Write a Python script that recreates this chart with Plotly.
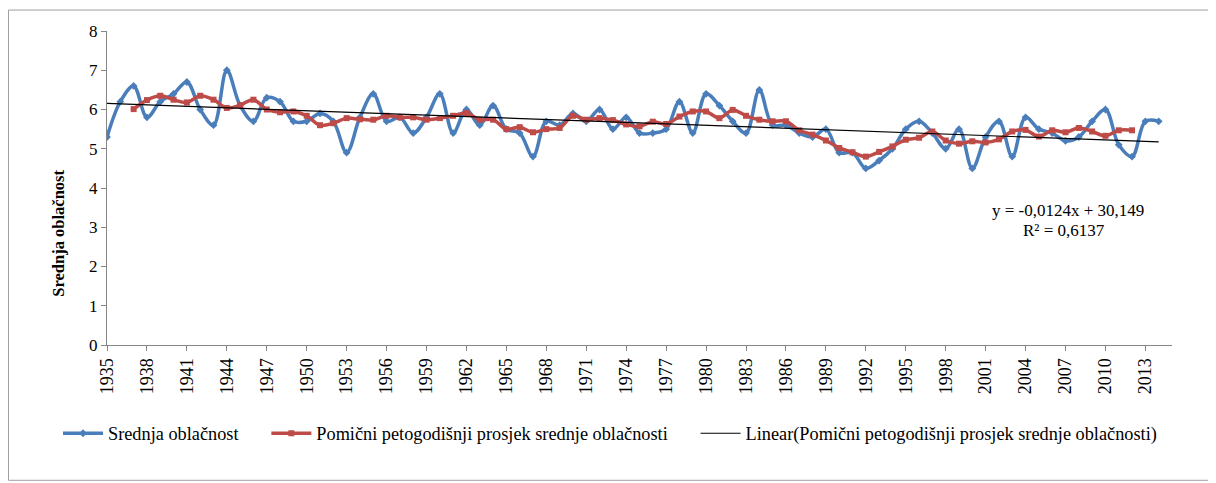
import plotly.graph_objects as go

# godine
years = list(range(1935, 2015))

# srednja oblačnost (desetine)
srednja = [5.3, 6.2, 6.6, 5.8, 6.2, 6.4, 6.7, 6.0, 5.6, 7.0,
           6.1, 5.7, 6.3, 6.2, 5.7, 5.7, 5.9, 5.7, 4.9, 5.8,
           6.4, 5.7, 5.8, 5.4, 5.8, 6.4, 5.4, 6.0, 5.6, 6.1,
           5.5, 5.4, 4.8, 5.7, 5.6, 5.9, 5.7, 6.0, 5.5, 5.8,
           5.4, 5.4, 5.5, 6.2, 5.4, 6.4, 6.1, 5.7, 5.4, 6.5,
           5.6, 5.6, 5.4, 5.3, 5.5, 4.9, 4.9, 4.5, 4.7, 5.0,
           5.5, 5.7, 5.4, 5.0, 5.5, 4.5, 5.3, 5.7, 4.8, 5.8,
           5.5, 5.4, 5.2, 5.3, 5.7, 6.0, 5.1, 4.8, 5.7, 5.7]

# pomični petogodišnji prosjek (1937 - 2012)
prosjek_years = list(range(1937, 2013))
prosjek = [6.01, 6.24, 6.35, 6.25, 6.18, 6.35, 6.25, 6.04, 6.11, 6.25,
           6.00, 5.93, 5.95, 5.84, 5.60, 5.65, 5.78, 5.75, 5.74, 5.84,
           5.80, 5.80, 5.74, 5.78, 5.84, 5.91, 5.74, 5.74, 5.50, 5.55,
           5.42, 5.50, 5.53, 5.84, 5.74, 5.78, 5.73, 5.62, 5.57, 5.69,
           5.63, 5.82, 5.95, 5.95, 5.78, 5.99, 5.84, 5.74, 5.70, 5.70,
           5.47, 5.36, 5.21, 5.02, 4.91, 4.80, 4.92, 5.06, 5.23, 5.28,
           5.44, 5.21, 5.13, 5.19, 5.16, 5.24, 5.44, 5.48, 5.31, 5.47,
           5.42, 5.53, 5.44, 5.33, 5.47, 5.47]

# linearni trend (koeficijenti s grafa)
slope = -0.0124
intercept = 30.149
trend_years = [1935, 2014]

# stranica ima marginu od 8 px, pa je sve pomaknuto
OFF = 8
W, H = 1216 - OFF, 483 - OFF
L, R, T, B = 107 - OFF, 1172 - OFF, 31 - OFF, 345.5 - OFF


def px_x(x):
    return (x - OFF - L) / (R - L)


def px_y(y):
    return (B - (y - OFF)) / (B - T)


font = 'Times New Roman, Liberation Serif, serif'
gap = '\u00a0' * 5

fig = go.Figure()
fig.add_trace(go.Scatter(
    x=years, y=srednja, name='Srednja oblačnost' + gap, mode='lines+markers',
    line=dict(color='#4A7EBB', width=3.5, shape='spline', smoothing=1.0),
    marker=dict(symbol='diamond', size=6, color='#4A7EBB')
))
fig.add_trace(go.Scatter(
    x=prosjek_years, y=prosjek, name='Pomični petogodišnji prosjek srednje oblačnosti' + gap,
    mode='lines+markers',
    line=dict(color='#BE4B48', width=3.5, shape='spline', smoothing=1.0),
    marker=dict(symbol='square', size=6, color='#BE4B48')
))
fig.add_trace(go.Scatter(
    x=trend_years, y=[slope * t + intercept for t in trend_years],
    name='Linear(Pomični petogodišnji prosjek srednje oblačnosti)', mode='lines',
    line=dict(color='black', width=1.2)
))

fig.update_layout(
    width=W, height=H,
    margin=dict(l=L, r=W - R, t=T, b=H - B),
    paper_bgcolor='white', plot_bgcolor='white',
    font=dict(family=font, size=17, color='black'),
    legend=dict(orientation='h', x=px_x(58), y=px_y(434), xanchor='left', yanchor='middle',
                font=dict(family=font, size=18.3), itemwidth=40, tracegroupgap=0),
    xaxis=dict(range=[1935, 2015], tickmode='linear', tick0=1935, dtick=3,
               tickangle=-90, ticks='outside', ticklen=5, tickcolor='#868686',
               showline=True, linecolor='#868686', linewidth=1.3, showgrid=False,
               zeroline=False, tickfont=dict(family=font, size=18)),
    yaxis=dict(range=[0, 8], tickmode='linear', tick0=0, dtick=1,
               ticks='outside', ticklen=5, tickcolor='#868686',
               showline=True, linecolor='#868686', linewidth=1.3, showgrid=False,
               zeroline=False, tickfont=dict(family=font, size=17)),
    shapes=[dict(type='rect', xref='paper', yref='paper',
                 x0=px_x(8.5), x1=px_x(1211), y0=px_y(481), y1=px_y(10),
                 line=dict(color='#A0A0A0', width=1), layer='below')],
    annotations=[
        dict(text='<b>Srednja oblačnost</b>', xref='paper', yref='paper',
             x=px_x(59), y=px_y(234), xanchor='center', yanchor='middle',
             textangle=-90, showarrow=False, font=dict(family=font, size=16.5)),
        dict(text='y = -0,0124x + 30,149', xref='paper', yref='paper',
             x=px_x(1068), y=px_y(211), xanchor='center', yanchor='middle',
             showarrow=False, font=dict(family=font, size=17)),
        dict(text='R² = 0,6137', xref='paper', yref='paper',
             x=px_x(1064), y=px_y(230.5), xanchor='center', yanchor='middle',
             showarrow=False, font=dict(family=font, size=17)),
    ],
)

fig.write_html('out.html')
